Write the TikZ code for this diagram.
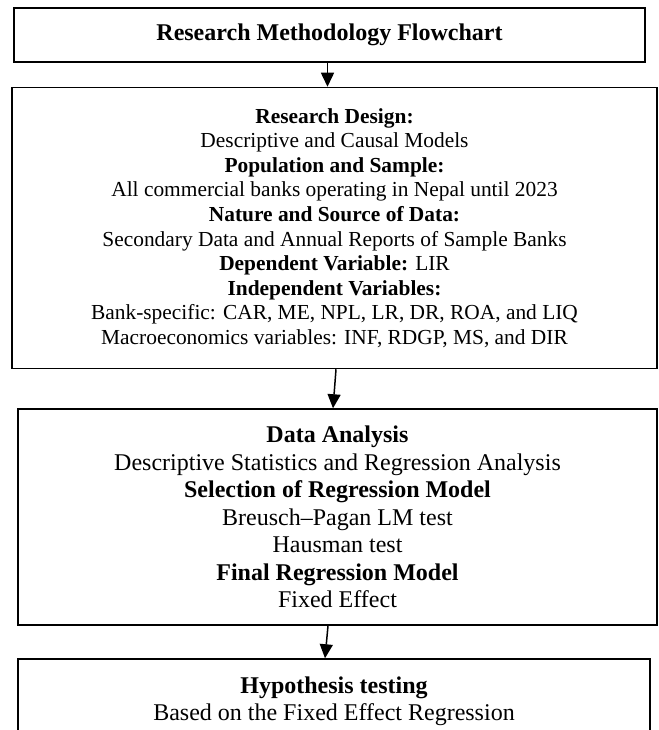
\documentclass[tikz,border=0pt]{standalone}
\usepackage{fontspec}
\setmainfont{Liberation Serif}
\usetikzlibrary{arrows.meta}
\begin{document}
\begin{tikzpicture}[x=1pt,y=-1pt,
  box/.style={draw,line width=1.5pt,inner sep=0pt,align=center,font=\fontsize{21.4}{24.6}\selectfont},
  big/.style={font=\fontsize{24}{27.5}\selectfont},
  arr/.style={line width=1.5pt,-{Triangle[length=14pt,width=13pt]}}]
\useasboundingbox (0,0) rectangle (658,730);
\clip (0,0) rectangle (658,730);
\node[box, big, minimum width=631pt, minimum height=54pt] (b1) at (329.5,35)
  {\textbf{Research Methodology Flowchart}};
\node[box, minimum width=645pt, minimum height=281pt] (b2) at (334.5,228)
  {\textbf{Research Design:}\\
   Descriptive and Causal Models\\
   \textbf{Population and Sample:}\\
   All commercial banks operating in Nepal until 2023\\
   \textbf{Nature and Source of Data:}\\
   Secondary Data and Annual Reports of Sample Banks\\
   \textbf{Dependent Variable:} LIR\\
   \textbf{Independent Variables:}\\
   Bank-specific: CAR, ME, NPL, LR, DR, ROA, and LIQ\\
   Macroeconomics variables: INF, RDGP, MS, and DIR};
\node[box, big, minimum width=639pt, minimum height=216pt] (b3) at (337.5,517)
  {\textbf{Data Analysis}\\
   Descriptive Statistics and Regression Analysis\\
   \textbf{Selection of Regression Model}\\
   Breusch–Pagan LM test\\
   Hausman test\\
   \textbf{Final Regression Model}\\
   Fixed Effect};
\node[box, big, minimum width=632pt, minimum height=85pt] (b4) at (334,701.5)
  {\textbf{Hypothesis testing}\\
   Based on the Fixed Effect Regression};
\draw[arr] ([xshift=-2pt]b1.south) -- ([xshift=-7pt]b2.north);
\draw[arr] ([xshift=1.5pt]b2.south) -- ([xshift=-4.5pt]b3.north);
\draw[arr] ([xshift=-9.5pt]b3.south) -- ([xshift=-9pt]b4.north);
\end{tikzpicture}
\end{document}
